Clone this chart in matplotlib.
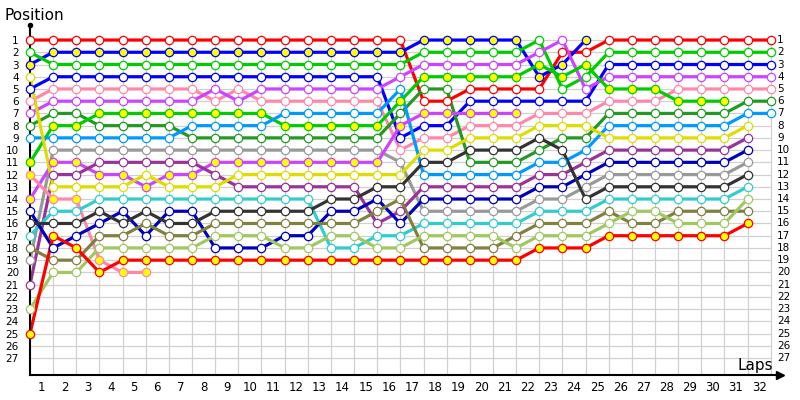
import matplotlib
matplotlib.use('Agg')
import matplotlib.pyplot as plt

# position per lap, index 0 = grid, then laps 1..n
red_h = [1,1,1,1,1,1,1,1,1,1,1,1,1,1,1,1,1,6,6,5,5,5,5,2,2,1,1,1,1,1,1,1,1]
blue_f = [3,2,2,2,2,2,2,2,2,2,2,2,2,2,2,2,2,1,1,1,1,1,4,3,1]
green_h = [2,3,3,3,3,3,3,3,3,3,3,3,3,3,3,3,3,2,2,2,2,2,1,5,4,2,2,2,2,2,2,2,2]
blue_h = [5,4,4,4,4,4,4,4,4,4,4,4,4,4,4,4,9,8,8,6,6,6,6,6,6,3,3,3,3,3,3,3,3]
pink_h = [6,5,5,5,5,5,5,5,6,5,6,6,6,6,6,6,10,9,9,8,8,8,7,7,7,6,6,6,5,5,5,5,5]
violet_h = [7,6,6,6,6,6,6,6,5,6,5,5,5,5,5,5,4,3,3,3,3,3,2,1,5,4,4,4,4,4,4,4,4]
dgreen_h = [8,7,7,8,8,8,8,9,9,9,9,9,9,9,9,9,7,5,5,11,11,11,10,9,9,7,7,7,7,7,7,6,6]
green_f = [11,8,8,7,7,7,7,7,7,7,7,8,8,8,8,8,6,4,4,4,4,4,3,4,3,5,5,5,6,6,6]
lblue_h = [9,9,9,9,9,9,9,8,8,8,8,7,7,7,7,7,5,12,12,12,12,12,11,11,10,8,8,8,8,8,8,7,7]
gray_h = [19,10,10,10,10,10,10,10,10,10,10,10,10,10,10,10,11,15,15,15,15,15,14,14,13,12,12,12,12,12,12,11]
violet_f = [14,11,11,12,12,13,12,12,11,11,11,11,11,11,11,11,8,7,7,7,7,7]
purple_h = [21,12,12,11,11,11,11,11,12,13,13,13,13,13,13,16,15,13,13,13,13,13,12,12,11,10,10,10,10,10,10,9]
yellow_h = [4,13,13,13,13,12,13,13,13,12,12,12,12,12,12,12,12,10,10,9,9,9,8,8,8,9,9,9,9,9,9,8]
pink_f = [12,14,14,19,20,20]
teal_h = [17,15,15,14,14,14,14,14,14,14,14,14,14,18,18,17,17,16,16,16,16,16,15,15,15,14,14,14,14,14,14,13]
navy_h = [15,18,17,16,15,17,15,15,18,18,18,17,17,15,15,14,16,14,14,14,14,14,13,13,12,11,11,11,11,11,11,10]
black_h = [16,16,16,15,16,15,16,16,15,15,15,15,15,14,14,13,13,11,11,10,10,10,9,10,14,13,13,13,13,13,13,12]
olive_h = [18,19,19,17,17,16,17,17,16,16,16,16,16,16,16,15,14,18,18,18,18,17,16,16,16,15,16,16,15,15,15,15]
lgreen_h = [23,20,20,18,18,18,18,18,17,17,17,18,18,17,17,18,18,17,17,17,17,18,17,17,17,16,15,15,16,16,16,14]
red_f = [25,17,18,20,19,19,19,19,19,19,19,19,19,19,19,19,19,19,19,19,19,19,18,18,18,17,17,17,17,17,17,16]

n_laps = 32
n_pos = 27

# (positions, line colour, filled with yellow?)
drivers = [
    (red_h, '#ff0000', False),
    (blue_f, '#0000ff', True),
    (green_h, '#00cc00', False),
    (blue_h, '#0000ff', False),
    (pink_h, '#ff88aa', False),
    (violet_h, '#cc44ff', False),
    (dgreen_h, '#229922', False),
    (green_f, '#00cc00', True),
    (lblue_h, '#0099ff', False),
    (gray_h, '#999999', False),
    (violet_f, '#cc44ff', True),
    (purple_h, '#993399', False),
    (yellow_h, '#dddd00', False),
    (pink_f, '#ff88aa', True),
    (teal_h, '#33cccc', False),
    (navy_h, '#0000bb', False),
    (black_h, '#333333', False),
    (olive_h, '#808040', False),
    (lgreen_h, '#a0c860', False),
    (red_f, '#ff0000', True),
]

fig = plt.figure(figsize=(8, 4), dpi=100)
ax = fig.add_axes([30/800, 25/400, 750/800, 350/400])
ax.set_xlim(0, 32.4)
ax.set_ylim(28.39, -0.23)

# grid
ax.hlines(range(1, n_pos + 1), 0, n_laps, color='#d0d0d0', lw=0.9, zorder=1)
ax.vlines(range(1, n_laps + 1), 1, 28.39, color='#d0d0d0', lw=0.9, zorder=1)

for pos, col, filled in drivers:
    laps = list(range(len(pos)))
    ax.plot(laps, pos, color=col, lw=2.3, zorder=2, solid_capstyle='round')
for pos, col, filled in drivers:
    laps = list(range(len(pos)))
    ax.plot(laps, pos, ls='none', marker='o', ms=6, mec=col, mew=0.9,
            mfc='#ffff00' if filled else 'white', zorder=3, clip_on=False)

for s in ['top', 'right']:
    ax.spines[s].set_visible(False)
ax.spines['left'].set_linewidth(1.5)
ax.spines['bottom'].set_linewidth(1.5)

ax.set_yticks(range(1, n_pos + 1))
ax.set_yticklabels([str(p) for p in range(1, n_pos + 1)], fontsize=7.5)
ax.tick_params(axis='y', length=0, pad=8)
ax.set_xticks([k - 0.5 for k in range(1, n_laps + 1)])
ax.set_xticklabels([str(k) for k in range(1, n_laps + 1)], fontsize=8.5)
ax.tick_params(axis='x', length=0, pad=4)

for p in range(1, n_pos + 1):
    ax.text(32.27, p, str(p), fontsize=7.5, va='center', ha='left')

ax.plot(0, -0.23, marker='o', ms=3, color='black', clip_on=False, zorder=4)
ax.plot(32.4, 28.39, marker='>', ms=6, color='black', clip_on=False, zorder=4)

fig.text(5/800, 1 - 16/400, 'Position', fontsize=11, va='center', ha='left')
ax.text(32.1, 27.6, 'Laps', fontsize=11, va='center', ha='right')

fig.savefig('out.png', dpi=100)
